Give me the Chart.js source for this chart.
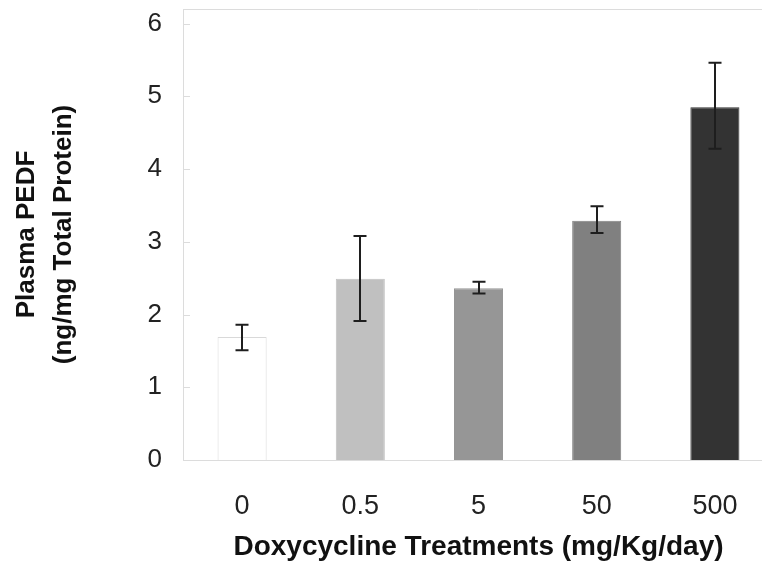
<!DOCTYPE html>
<html>
<head>
<meta charset="utf-8">
<script src="https://cdn.jsdelivr.net/npm/chart.js@4"></script>
<style>
  html, body { margin: 0; padding: 0; background: #fff; overflow: hidden; }
  #wrap { width: 762px; height: 568px; overflow: hidden; }
  #box { width: 780px; height: 568px; }
</style>
</head>
<body>
<div id="wrap"><div id="box"><canvas id="myChart"></canvas></div></div>
<script>
// chart data
const doseLabels = ['0', '0.5', '5', '50', '500'];
const pedfMeans = [1.69, 2.49, 2.36, 3.29, 4.85];
const errLow = [1.51, 1.91, 2.29, 3.12, 4.28];
const errHigh = [1.86, 3.08, 2.45, 3.49, 5.46];
const yTicks = [0, 1, 2, 3, 4, 5, 6];
const barColors = ['#ffffff', '#c0c0c0', '#969696', '#808080', '#333333'];
const barBorders = ['#d9d9d9', '#c0c0c0', '#969696', '#808080', '#333333'];

const FONT = "'Liberation Sans', Arial, sans-serif";
const FRAME = '#dcdcdc';

// plot frame (top line) and the small inner tick marks on the y axis
const framePlugin = {
    id: 'frame',
    beforeDatasetsDraw(chart) {
        const ctx = chart.ctx;
        const area = chart.chartArea;
        const yScale = chart.scales.y;
        ctx.save();
        ctx.strokeStyle = FRAME;
        ctx.lineWidth = 1;
        ctx.beginPath();
        ctx.moveTo(area.left, area.top + 0.5);
        ctx.lineTo(area.right, area.top + 0.5);
        yTicks.forEach(v => {
            const y = Math.round(yScale.getPixelForValue(v)) + 0.5;
            ctx.moveTo(area.left, y);
            ctx.lineTo(area.left + 7, y);
        });
        ctx.stroke();
        ctx.restore();
    }
};

// error bars drawn from the y scale
const errorBarPlugin = {
    id: 'errorBars',
    afterDatasetsDraw(chart) {
        const ctx = chart.ctx;
        const yScale = chart.scales.y;
        const meta = chart.getDatasetMeta(0);
        ctx.save();
        ctx.strokeStyle = '#1e1e1e';
        ctx.lineWidth = 2;
        meta.data.forEach((bar, i) => {
            const x = Math.round(bar.x);
            const yTop = yScale.getPixelForValue(errHigh[i]);
            const yBot = yScale.getPixelForValue(errLow[i]);
            const cap = 6.5;
            ctx.beginPath();
            ctx.moveTo(x, yTop);
            ctx.lineTo(x, yBot);
            ctx.moveTo(x - cap, yTop);
            ctx.lineTo(x + cap, yTop);
            ctx.moveTo(x - cap, yBot);
            ctx.lineTo(x + cap, yBot);
            ctx.stroke();
        });
        ctx.restore();
    }
};

let ctx = document.getElementById('myChart').getContext('2d');
let chart = new Chart(ctx, {
    type: 'bar',
    data: {
        labels: doseLabels,
        datasets: [
            {
                data: pedfMeans,
                backgroundColor: barColors,
                borderColor: barBorders,
                borderWidth: 1,
                barPercentage: 0.415,
                categoryPercentage: 1.0
            }
        ]
    },
    options: {
        responsive: true,
        maintainAspectRatio: false,
        animation: false,
        devicePixelRatio: 1,
        layout: { padding: { left: 8, top: 9, right: 6, bottom: 2 } },
        plugins: {
            legend: { display: false },
            tooltip: { enabled: false }
        },
        scales: {
            x: {
                afterFit: (axis) => {
                    axis.height = 106;
                },
                grid: { display: false, drawTicks: false },
                border: { display: true, color: FRAME, width: 1 },
                ticks: { color: '#222', font: { family: FONT, size: 27 }, padding: 30 },
                title: {
                    display: true,
                    text: 'Doxycycline Treatments (mg/Kg/day)',
                    color: '#111',
                    font: { family: FONT, size: 28, weight: 'bold', lineHeight: 1.2 },
                    padding: { top: 0, bottom: 2 }
                }
            },
            y: {
                min: 0,
                max: 6.2,
                afterBuildTicks: (axis) => {
                    axis.ticks = yTicks.map(v => ({ value: v }));
                },
                afterFit: (axis) => {
                    axis.paddingTop = 0;
                    axis.width = 175;
                },
                grid: { display: false, drawTicks: false },
                border: { display: true, color: FRAME, width: 1 },
                ticks: { color: '#222', font: { family: FONT, size: 26 }, padding: 21 },
                title: {
                    display: true,
                    text: ['Plasma PEDF', '(ng/mg Total Protein)'],
                    color: '#111',
                    font: { family: FONT, size: 26, weight: 'bold', lineHeight: '37px' },
                    padding: { top: 0, bottom: 10 }
                }
            }
        }
    },
    plugins: [framePlugin, errorBarPlugin]
});
</script>
</body>
</html>
